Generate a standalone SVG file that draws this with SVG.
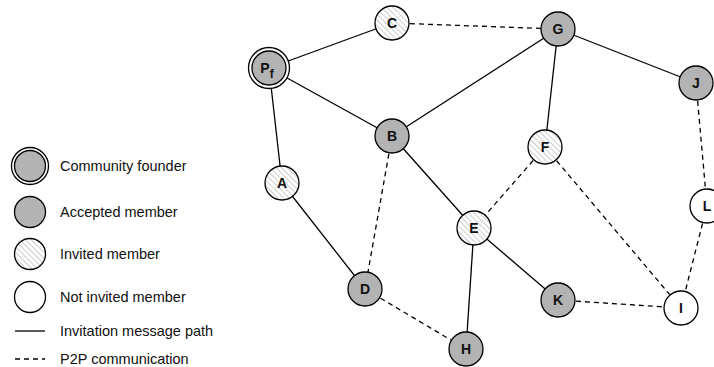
<svg xmlns="http://www.w3.org/2000/svg" width="714" height="367" viewBox="0 0 714 367">
<defs>
<pattern id="hatch" patternUnits="userSpaceOnUse" width="4" height="4" patternTransform="rotate(-45)">
<rect width="4" height="4" fill="#ffffff"/>
<line x1="0" y1="0" x2="0" y2="4" stroke="#b8b8b8" stroke-width="1.4"/>
</pattern>
<style>
.e{stroke:#000;stroke-width:1.3;fill:none}
.d{stroke-dasharray:5,4}
.n{stroke:#000;stroke-width:1.3}
.acc{fill:#b3b3b3}
.inv{fill:url(#hatch)}
.not{fill:#fff}
.lbl{font-family:"Liberation Sans",Arial,sans-serif;font-weight:bold;font-size:14px;text-anchor:middle;fill:#111}
.leg{font-family:"Liberation Sans",Arial,sans-serif;font-size:14.5px;fill:#111}
</style>
</defs>
<rect width="714" height="367" fill="#fff"/>
<g id="connectors">
<line class="e" x1="269" y1="68" x2="392" y2="23"/>
<line class="e" x1="269" y1="68" x2="392" y2="136"/>
<line class="e" x1="269" y1="68" x2="282" y2="183"/>
<line class="e" x1="282" y1="183" x2="365" y2="289"/>
<line class="e" x1="392" y1="136" x2="558" y2="29"/>
<line class="e" x1="392" y1="136" x2="474" y2="228"/>
<line class="e" x1="558" y1="29" x2="545" y2="147"/>
<line class="e" x1="558" y1="29" x2="696" y2="83"/>
<line class="e" x1="474" y1="228" x2="466" y2="349"/>
<line class="e" x1="474" y1="228" x2="558" y2="300"/>
<line class="e d" x1="392" y1="23" x2="558" y2="29"/>
<line class="e d" x1="392" y1="136" x2="365" y2="289"/>
<line class="e d" x1="545" y1="147" x2="474" y2="228"/>
<line class="e d" x1="545" y1="147" x2="681" y2="308"/>
<line class="e d" x1="696" y1="83" x2="707" y2="206"/>
<line class="e d" x1="707" y1="206" x2="681" y2="308"/>
<line class="e d" x1="558" y1="300" x2="681" y2="308"/>
<line class="e d" x1="365" y1="289" x2="466" y2="349"/>
</g>
<g id="Pf"><circle class="n not" cx="269" cy="68" r="20.5"/><circle class="n acc" cx="269" cy="68" r="17"/><text class="lbl" x="267" y="73">P<tspan font-size="12" dy="5">f</tspan></text></g>
<g id="C"><circle class="n inv" cx="392" cy="23" r="17"/><text class="lbl" x="392" y="28">C</text></g>
<g id="B"><circle class="n acc" cx="392" cy="136" r="17"/><text class="lbl" x="392" y="141">B</text></g>
<g id="A"><circle class="n inv" cx="282" cy="183" r="17"/><text class="lbl" x="282" y="188">A</text></g>
<g id="G"><circle class="n acc" cx="558" cy="29" r="17"/><text class="lbl" x="558" y="34">G</text></g>
<g id="J"><circle class="n acc" cx="696" cy="83" r="17"/><text class="lbl" x="696" y="88">J</text></g>
<g id="F"><circle class="n inv" cx="545" cy="147" r="17"/><text class="lbl" x="545" y="152">F</text></g>
<g id="L"><circle class="n not" cx="707" cy="206" r="17"/><text class="lbl" x="707" y="211">L</text></g>
<g id="E"><circle class="n inv" cx="474" cy="228" r="17"/><text class="lbl" x="474" y="233">E</text></g>
<g id="D"><circle class="n acc" cx="365" cy="289" r="17"/><text class="lbl" x="365" y="294">D</text></g>
<g id="H"><circle class="n acc" cx="466" cy="349" r="17"/><text class="lbl" x="466" y="354">H</text></g>
<g id="K"><circle class="n acc" cx="558" cy="300" r="17"/><text class="lbl" x="558" y="305">K</text></g>
<g id="I"><circle class="n not" cx="681" cy="308" r="17"/><text class="lbl" x="681" y="313">I</text></g>
<g id="legend">
<circle class="n not" cx="30" cy="166" r="18.5"/><circle class="n acc" cx="30" cy="166" r="15.5"/>
<text class="leg" x="60" y="171">Community founder</text>
<circle class="n acc" cx="30" cy="212" r="15.5"/>
<text class="leg" x="60" y="217">Accepted member</text>
<circle class="n inv" cx="30" cy="254" r="15.5"/>
<text class="leg" x="60" y="259">Invited member</text>
<circle class="n not" cx="30" cy="297" r="15.5"/>
<text class="leg" x="60" y="302">Not invited member</text>
<line class="e" x1="15" y1="331" x2="45" y2="331"/>
<text class="leg" x="60" y="336">Invitation message path</text>
<line class="e d" x1="15" y1="359" x2="45" y2="359"/>
<text class="leg" x="60" y="364">P2P communication</text>
</g>
</svg>
